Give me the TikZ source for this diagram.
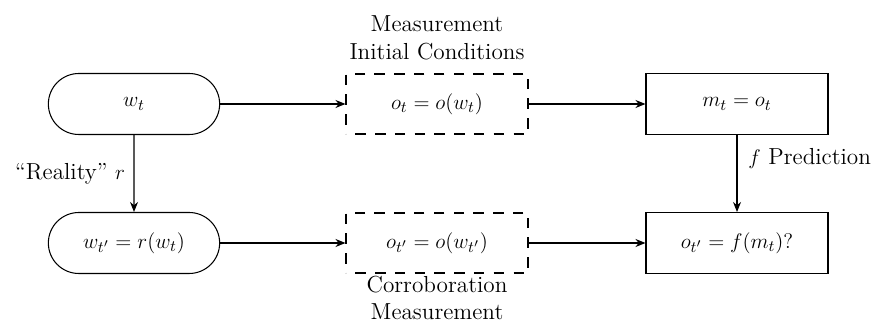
\documentclass[tikz,border=0pt]{standalone}
\usetikzlibrary{positioning,shapes.misc,arrows.meta,decorations}
\begin{document}
\begin{tikzpicture}[>={Stealth[length=2mm,width=1.6mm]},semithick]
	\tikzset{every node/.style={font=\fontsize{13.2}{16}\selectfont},
		world/.style={draw,rounded rectangle,minimum width=3.66cm,minimum height=1.22cm},
		obs/.style={draw,dash pattern=on 6pt off 5pt,dash expand off,minimum width=3.64cm,minimum height=1.2cm},
		model/.style={draw,minimum width=3.64cm,minimum height=1.22cm}}
	\useasboundingbox (0,0) rectangle (17.5,6.5);
	% top row: initial state
	\node[world] (wt) at (2.68,4.42) {$w_t$};
	\node[obs] (ot) at (8.74,4.42) {$o_t = o(w_t)$};
	\node[model] (mt) at (14.74,4.42) {$m_t = o_t$};
	% bottom row: later state
	\node[world] (wtp) at (2.68,1.64) {$w_{t'} = r(w_t)$};
	\node[obs] (otp) at (8.74,1.64) {$o_{t'} = o(w_{t'})$};
	\node[model] (ftp) at (14.74,1.64) {$o_{t'} = f(m_t)?$};
	\node[above=2.2mm of ot,align=center,inner sep=1pt] (lbltop) {Measurement\\Initial Conditions};
	\node[below=0.3mm of otp,align=center,inner sep=0.5pt,font=\fontsize{13.2}{15}\selectfont] (lblbot) {Corroboration\\Measurement};
	% arrows
	\draw[->] (wt) -- node[left,xshift=-0.5mm] {``Reality'' $r$} (wtp);
	\draw[->] (mt) -- node[right,pos=0.3,xshift=1mm] {$f$ Prediction} (ftp);
	\draw[->] (wt.east) -- (ot.west);
	\draw[->] (ot.east) -- (mt.west);
	\draw[->] (wtp.east) -- (otp.west);
	\draw[->] (otp.east) -- (ftp.west);
\end{tikzpicture}
\end{document}
